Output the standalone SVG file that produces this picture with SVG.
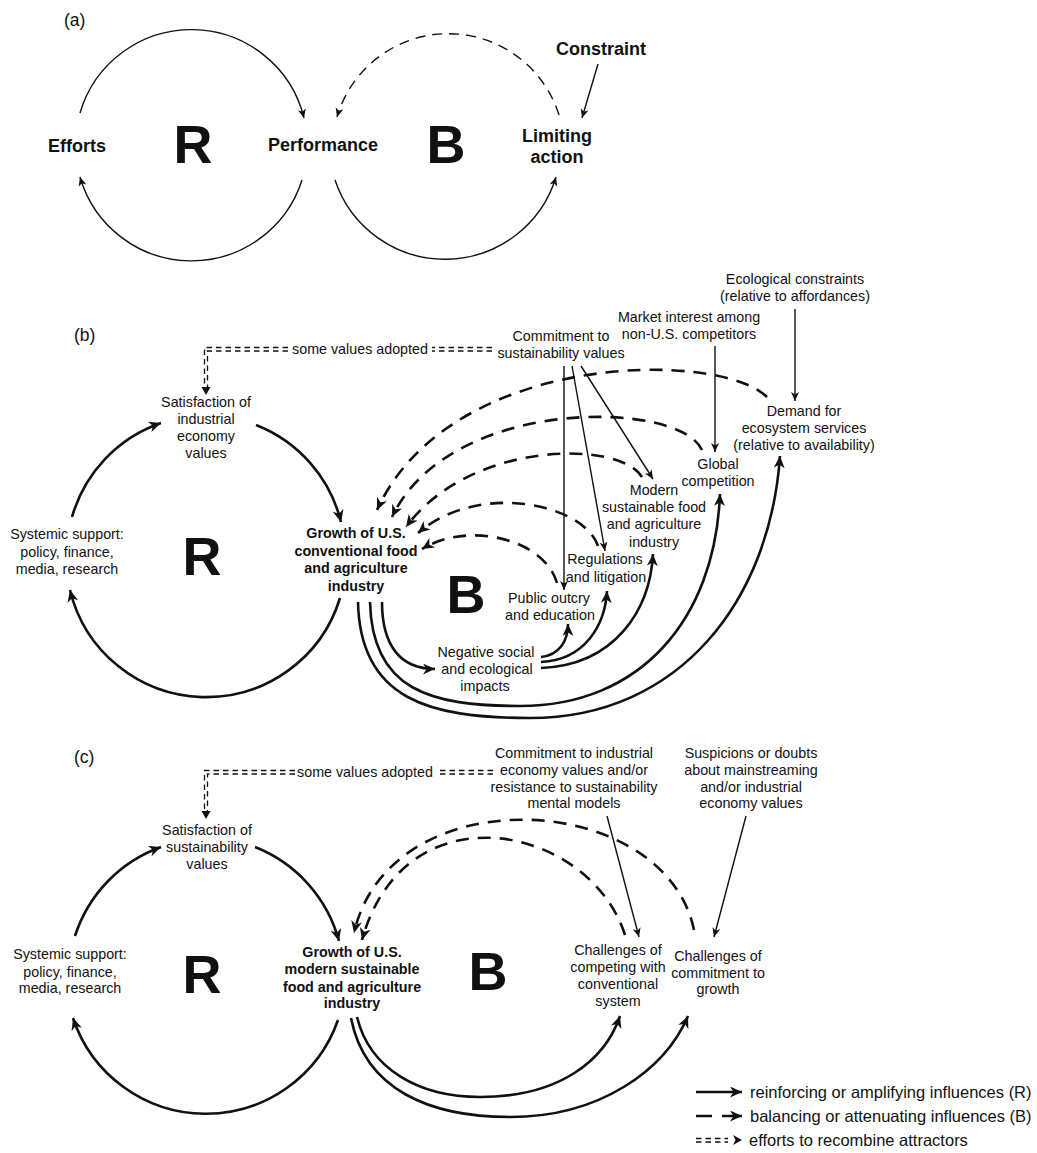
<svg xmlns="http://www.w3.org/2000/svg" width="1037" height="1153" viewBox="0 0 1037 1153">
<style>
text{font-family:"Liberation Sans",Arial,sans-serif;fill:#111;text-anchor:middle;font-size:14.3px}
.b{font-weight:bold}
.m{font-size:18px;font-weight:bold}
.h{font-size:54px;font-weight:bold}
.p{font-size:17.5px;text-anchor:start}
.lg{font-size:16.5px;text-anchor:start}
.thin{stroke:#111;stroke-width:1.4;fill:none}
.thk{stroke:#111;stroke-width:2.6;fill:none}
.ds{stroke-dasharray:13 9}
.da{stroke-dasharray:10 7}
.dd{stroke:#111;stroke-width:1.3;fill:none;stroke-dasharray:5.5 4}
</style>
<defs>
<marker id="ah" markerUnits="userSpaceOnUse" markerWidth="13" markerHeight="12" refX="12" refY="5.5" orient="auto"><path d="M0,0 L12,5.5 L0,11 L3.5,5.5 z" fill="#111"/></marker>
<marker id="as" markerUnits="userSpaceOnUse" markerWidth="10" markerHeight="9" refX="9" refY="4" orient="auto"><path d="M0,0 L9,4 L0,8 L2.5,4 z" fill="#111"/></marker>
</defs>

<!-- Panel labels -->
<text class="p" x="64" y="26">(a)</text>
<text class="p" x="74" y="341">(b)</text>
<text class="p" x="74" y="763">(c)</text>

<!-- Panel (a) nodes -->
<g id="a-efforts"><text class="m" x="77" y="152">Efforts</text></g>
<g id="a-R"><text class="h" x="193" y="163">R</text></g>
<g id="a-performance"><text class="m" x="323" y="151">Performance</text></g>
<g id="a-B"><text class="h" x="446" y="163">B</text></g>
<g id="a-limiting"><text class="m" x="557" y="142">Limiting</text><text class="m" x="557" y="163">action</text></g>
<g id="a-constraint"><text class="m" x="601" y="55">Constraint</text></g>

<!-- Panel (b) nodes -->
<g id="b-satisfaction"><text x="206" y="407">Satisfaction of</text><text x="206" y="424">industrial</text><text x="206" y="441">economy</text><text x="206" y="458">values</text></g>
<g id="b-support"><text x="67" y="539">Systemic support:</text><text x="67" y="557">policy, finance,</text><text x="67" y="574">media, research</text></g>
<g id="b-growth"><text class="b" x="356" y="538">Growth of U.S.</text><text class="b" x="356" y="556">conventional food</text><text class="b" x="356" y="573">and agriculture</text><text class="b" x="356" y="591">industry</text></g>
<g id="b-R"><text class="h" x="202" y="575">R</text></g>
<g id="b-B"><text class="h" x="466" y="613">B</text></g>
<g id="b-commitment"><text x="561" y="341">Commitment to</text><text x="561" y="358">sustainability values</text></g>
<g id="b-market"><text x="689" y="322">Market interest among</text><text x="689" y="339">non-U.S. competitors</text></g>
<g id="b-ecological"><text x="795" y="284">Ecological constraints</text><text x="795" y="301">(relative to affordances)</text></g>
<g id="b-demand"><text x="804" y="416">Demand for</text><text x="804" y="433">ecosystem services</text><text x="804" y="450">(relative to availability)</text></g>
<g id="b-global"><text x="718" y="469">Global</text><text x="718" y="486">competition</text></g>
<g id="b-modern"><text x="654" y="495">Modern</text><text x="654" y="512">sustainable food</text><text x="654" y="529">and agriculture</text><text x="654" y="547">industry</text></g>
<g id="b-regulations"><text x="605" y="564">Regulations</text><text x="606" y="582">and litigation</text></g>
<g id="b-outcry"><text x="549" y="603">Public outcry</text><text x="550" y="620">and education</text></g>
<g id="b-negative"><text x="486" y="657">Negative social</text><text x="487" y="674">and ecological</text><text x="485" y="691">impacts</text></g>

<!-- Panel (c) nodes -->
<g id="c-satisfaction"><text x="207" y="835">Satisfaction of</text><text x="207" y="852">sustainability</text><text x="207" y="869">values</text></g>
<g id="c-support"><text x="70" y="959">Systemic support:</text><text x="70" y="977">policy, finance,</text><text x="70" y="993">media, research</text></g>
<g id="c-growth"><text class="b" x="352" y="957">Growth of U.S.</text><text class="b" x="352" y="974">modern sustainable</text><text class="b" x="352" y="992">food and agriculture</text><text class="b" x="352" y="1008">industry</text></g>
<g id="c-R"><text class="h" x="202" y="993">R</text></g>
<g id="c-B"><text class="h" x="488" y="990">B</text></g>
<g id="c-commitment"><text x="574" y="758">Commitment to industrial</text><text x="574" y="775">economy values and/or</text><text x="574" y="792">resistance to sustainability</text><text x="574" y="808">mental models</text></g>
<g id="c-suspicions"><text x="751" y="758">Suspicions or doubts</text><text x="751" y="775">about mainstreaming</text><text x="751" y="792">and/or industrial</text><text x="751" y="808">economy values</text></g>
<g id="c-competing"><text x="618" y="955">Challenges of</text><text x="618" y="972">competing with</text><text x="618" y="989">conventional</text><text x="618" y="1006">system</text></g>
<g id="c-growthchal"><text x="718" y="961">Challenges of</text><text x="718" y="978">commitment to</text><text x="718" y="994">growth</text></g>

<!-- Connectors -->
<g id="connectors">
<!-- (a) -->
<path class="thin" d="M80,113 A116,116 0 0,1 304,118" marker-end="url(#as)"/>
<path class="thin" d="M302,180 A116,116 0 0,1 80,177" marker-end="url(#as)"/>
<path class="thin da" d="M559,115 A116,116 0 0,0 337,117" marker-end="url(#as)"/>
<path class="thin" d="M335,180 A116,116 0 0,0 556,177" marker-end="url(#as)"/>
<path class="thin" d="M598,64 L582,118" marker-end="url(#as)"/>

<!-- (b) R loop -->
<path class="thk" d="M72,517 A140,140 0 0,1 161,423" marker-end="url(#ah)"/>
<path class="thk" d="M256,425 A140,140 0 0,1 341,522" marker-end="url(#ah)"/>
<path class="thk" d="M340,598 A140,140 0 0,1 70,590" marker-end="url(#ah)"/>
<!-- (b) double dash -->
<g>
<path class="dd" d="M492,347.5 H432 M288,347.5 H204.5 V388"/>
<path class="dd" d="M492,351 H432 M288,351 H207.5 V388"/>
<path d="M201.5,387 L210.5,387 L206,395 z" fill="#111"/>
</g>
<text x="360" y="354">some values adopted</text>
<!-- (b) dashed balancing -->
<path class="thk ds" d="M557,583 C545,540 470,520 422,549" marker-end="url(#ah)"/>
<path class="thk ds" d="M598,546 C585,505 480,480 418,533" marker-end="url(#ah)"/>
<path class="thk ds" d="M642,477 C620,440 470,440 406,527" marker-end="url(#ah)"/>
<path class="thk ds" d="M702,450 C680,400 450,395 392,517" marker-end="url(#ah)"/>
<path class="thk ds" d="M767,397 C720,350 450,350 377,510" marker-end="url(#ah)"/>
<!-- (b) thin influences -->
<path class="thin" d="M564,366 L564,590" marker-end="url(#as)"/>
<path class="thin" d="M572,366 L605,551" marker-end="url(#as)"/>
<path class="thin" d="M581,366 L653,479" marker-end="url(#as)"/>
<path class="thin" d="M715,346 L715,452" marker-end="url(#as)"/>
<path class="thin" d="M795,309 L795,401" marker-end="url(#as)"/>
<!-- (b) solid thick -->
<path class="thk" d="M382,602 C382,645 400,669 435,669" marker-end="url(#ah)"/>
<path class="thk" d="M541,657 C560,655 568,640 568,624" marker-end="url(#ah)"/>
<path class="thk" d="M541,662 C585,660 605,625 607,591" marker-end="url(#ah)"/>
<path class="thk" d="M541,668 C615,665 650,610 653,554" marker-end="url(#ah)"/>
<path class="thk" d="M370,602 C372,690 430,706 520,706 C640,706 715,620 720,494" marker-end="url(#ah)"/>
<path class="thk" d="M358,602 C360,700 430,718 530,718 C680,718 770,600 780,456" marker-end="url(#ah)"/>

<!-- (c) R loop -->
<path class="thk" d="M75,936 A140,140 0 0,1 161,847" marker-end="url(#ah)"/>
<path class="thk" d="M255,847 A140,140 0 0,1 339,941" marker-end="url(#ah)"/>
<path class="thk" d="M338,1020 A140,140 0 0,1 73,1018" marker-end="url(#ah)"/>
<!-- (c) double dash -->
<g>
<path class="dd" d="M493,770.5 H437 M295,770.5 H204.5 V812"/>
<path class="dd" d="M493,774 H437 M295,774 H207.5 V812"/>
<path d="M201.5,811 L210.5,811 L206,819 z" fill="#111"/>
</g>
<text x="365" y="777">some values adopted</text>
<!-- (c) dashed balancing -->
<path class="thk ds" d="M625,935 C590,825 405,785 362,940" marker-end="url(#ah)"/>
<path class="thk ds" d="M694,930 C665,790 390,775 354,933" marker-end="url(#ah)"/>
<!-- (c) thin -->
<path class="thin" d="M607,816 L639,937" marker-end="url(#as)"/>
<path class="thin" d="M746,816 L714,937" marker-end="url(#as)"/>
<!-- (c) solid thick -->
<path class="thk" d="M357,1017 C370,1070 420,1097 480,1097 C560,1097 605,1060 620,1016" marker-end="url(#ah)"/>
<path class="thk" d="M351,1018 C365,1090 430,1117 510,1117 C600,1117 665,1070 688,1016" marker-end="url(#ah)"/>
</g>

<!-- Legend -->
<g id="legend">
<path class="thk" d="M696,1092 L742,1092" marker-end="url(#ah)"/>
<text class="lg" x="750" y="1098">reinforcing or amplifying influences (R)</text>
<path class="thk" d="M696,1116 L712,1116 M722,1116 L742,1116" marker-end="url(#ah)"/>
<text class="lg" x="750" y="1122">balancing or attenuating influences (B)</text>
<path class="dd" d="M696,1138.5 H728 M696,1142 H728"/>
<path d="M733,1135 L742,1140 L733,1145 L735.5,1140 z" fill="#111"/>
<text class="lg" x="749" y="1146">efforts to recombine attractors</text>
</g>
</svg>
